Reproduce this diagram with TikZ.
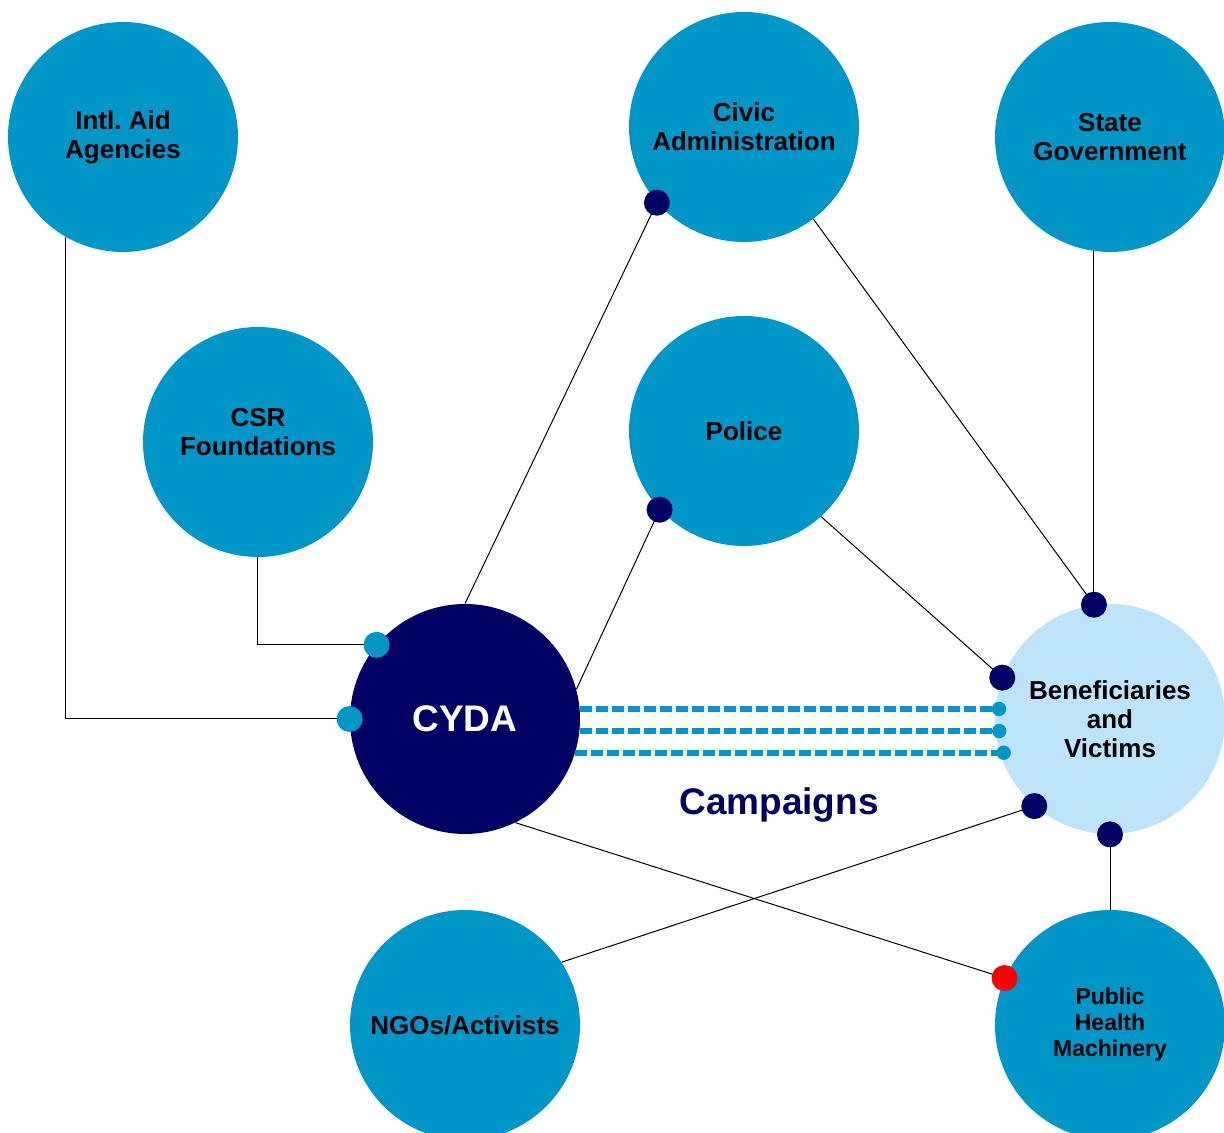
\documentclass[tikz,border=0pt]{standalone}
\usepackage{fontspec}
\setmainfont{Liberation Sans}
\usetikzlibrary{positioning}

\definecolor{midblue}{RGB}{0,150,199}
\definecolor{navy}{RGB}{0,0,100}
\definecolor{paleblue}{RGB}{189,228,248}

\begin{document}
\begin{tikzpicture}[on grid, x=1pt, y=1pt,
  nodes = {align=center, font=\bfseries\fontsize{13}{14.5}\selectfont},
  actor/.style = {circle, minimum size=115pt, inner sep=0pt, fill=midblue},
  link/.style = {line width=0.5pt},
  campaign/.style = {midblue, line width=2.9pt, dash pattern=on 6pt off 2pt}
  ]
  \useasboundingbox (-232.5,-207) rectangle (379.5,359.5);

  \node[actor, fill=navy, text=white, font=\bfseries\fontsize{18.5}{20}\selectfont] (cyda) {CYDA};
  \node[actor, fill=paleblue] (benef) [right=322.5pt of cyda] {Beneficiaries\\and\\Victims};
  \node[actor] (ngo) [below=153pt of cyda] {NGOs/Activists};
  \node[actor, font=\bfseries\fontsize{11.5}{13}\selectfont] (health) [below=153pt of benef] {Public\\Health\\Machinery};
  \node[actor] (police) [above right=144pt and 139.5pt of cyda] {Police};
  \node[actor] (civic) [above=152pt of police] {Civic\\Administration};
  \node[actor] (state) [above=291pt of benef] {State\\Government};
  \node[actor, label={[yshift=5pt]center:CSR\\Foundations}] (csr) [above left=138.5pt and 103.5pt of cyda] {};
  \node[actor] (intl) [above left=152.5pt and 67.5pt of csr] {Intl.\ Aid\\Agencies};
  \node[navy, font=\bfseries\fontsize{18.5}{20}\selectfont] (camp) [below right=43pt and 157pt of cyda] {Campaigns};

  % funding lines into CYDA
  \draw[link] (intl.240) |- (cyda.west);
  \draw[link] (csr.south) |- (cyda.140);
  \fill[midblue] (cyda.west) circle (6.5pt) (cyda.140) circle (6.5pt);

  % links of CYDA and the others
  \draw[link] (cyda.north) -- (civic.221);
  \draw[link] (cyda.15) -- (police.223);
  \draw[link] (civic.307) -- (benef.98);
  \draw[link] (state.262) -- (benef.98);
  \draw[link] (police.312) -- (benef.159);
  \draw[link] (ngo.33) -- (benef.229);
  \draw[link] (cyda.296) -- (health.156);
  \draw[link] (benef.south) -- (health.north);
  \foreach \p in {civic.221, police.223, benef.98, benef.159, benef.229, benef.south}
    \fill[navy] (\p) circle (6.5pt);
  \fill[red] (health.156) circle (6.5pt);

  % campaigns
  \foreach \a/\b in {5/175, -6/186, -17.2/197.2} {
    \draw[campaign] (cyda.\a) -- (benef.\b);
    \fill[midblue] ([xshift=2pt]benef.\b) circle (3.6pt);
  }
\end{tikzpicture}
\end{document}
